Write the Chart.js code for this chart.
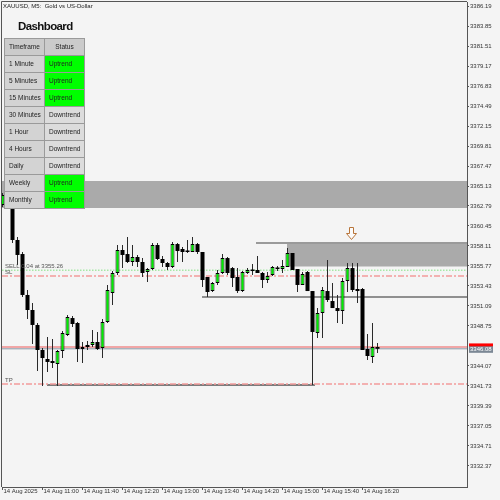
<!DOCTYPE html>
<html><head><meta charset="utf-8">
<script src="https://cdn.jsdelivr.net/npm/chart.js@4/dist/chart.umd.min.js"></script>
<style>
html,body{margin:0;padding:0;background:#f4f4f4;}
#wrap{position:relative;width:500px;height:500px;overflow:hidden;background:#f4f4f4;}
canvas{position:absolute;left:0;top:0;}
.ov{position:absolute;z-index:2;font-family:"Liberation Sans",Arial,sans-serif;}
#title{left:3px;top:3px;font-size:6px;line-height:6px;color:#222;white-space:pre;}
#dash{left:18px;top:21px;font-size:11.5px;line-height:11.5px;font-weight:bold;letter-spacing:-0.6px;color:#111;}
.cell{position:absolute;z-index:2;box-sizing:border-box;border:1px solid #9a9a9a;font-family:"Liberation Sans",Arial,sans-serif;font-size:6.5px;line-height:15px;color:#222;padding-left:4px;white-space:nowrap;overflow:hidden;}
</style></head>
<body><div id="wrap"><canvas id="c" width="500" height="500"></canvas>
<div id="title" class="ov">XAUUSD, M5:  Gold vs US-Dollar</div>
<div id="dash" class="ov">Dashboard</div>
</div>
<script>
// ---- data ----
const tickLabels = ['14 Aug 2025','14 Aug 11:00','14 Aug 11:40','14 Aug 12:20','14 Aug 13:00','14 Aug 13:40','14 Aug 14:20','14 Aug 15:00','14 Aug 15:40','14 Aug 16:20'];
const tickBars = [0,8,16,24,32,40,48,56,64,72];
const priceTicks = [3386.19,3383.85,3381.51,3379.17,3376.83,3374.49,3372.15,3369.81,3367.47,3365.13,3362.79,3360.45,3358.11,3355.77,3353.43,3351.09,3348.75,3344.07,3341.73,3339.39,3337.05,3334.71,3332.37];
const open = [3362.91,3364.08,3363.49,3358.81,3357.17,3352.38,3350.62,3348.87,3345.94,3344.89,
3344.65,3344.30,3345.82,3347.70,3349.68,3349.10,3346.06,3346.53,3346.53,3346.88,
3346.17,3349.22,3352.61,3354.95,3357.64,3357.17,3356.24,3356.82,3356.24,3355.07,
3355.42,3358.23,3356.59,3356.12,3355.65,3358.34,3357.76,3357.52,3357.41,3358.34,
3357.41,3354.48,3352.84,3353.78,3354.95,3356.70,3355.53,3354.48,3352.84,3354.95,
3355.30,3355.30,3354.95,3354.13,3354.72,3355.53,3355.42,3355.65,3357.29,3355.42,
3353.55,3355.07,3352.84,3347.93,3350.27,3352.84,3351.67,3350.85,3350.50,3354.01,
3355.53,3353.08,3353.08,3346.06,3345.12,3346.29];
const high = [3364.31,3364.66,3363.96,3359.16,3357.41,3352.96,3351.44,3349.10,3346.17,3347.46,
3347.23,3345.94,3348.16,3350.04,3349.92,3349.22,3346.88,3346.99,3348.28,3348.05,
3349.57,3353.55,3355.18,3358.23,3358.23,3359.16,3358.23,3357.06,3356.70,3355.53,
3358.46,3358.46,3356.94,3356.24,3358.58,3358.46,3357.99,3358.81,3359.16,3358.46,
3357.41,3354.48,3353.90,3355.30,3357.17,3356.82,3355.65,3355.53,3355.18,3355.53,
3356.00,3356.94,3355.07,3355.07,3355.77,3355.77,3356.47,3357.87,3357.29,3355.42,
3355.07,3355.18,3352.84,3350.85,3353.31,3356.47,3353.78,3352.38,3354.36,3356.12,
3356.12,3356.12,3353.19,3347.81,3349.10,3346.76];
const low = [3362.67,3363.02,3358.46,3355.89,3352.14,3349.57,3346.64,3343.48,3341.73,3343.37,
3343.83,3341.73,3345.00,3347.58,3348.63,3344.54,3344.42,3345.94,3346.29,3345.94,
3345.00,3349.10,3351.21,3354.72,3355.53,3356.12,3355.77,3355.65,3354.48,3353.90,
3355.30,3356.47,3355.65,3355.30,3355.53,3356.24,3356.24,3357.29,3357.41,3357.17,
3353.31,3352.14,3352.73,3353.55,3354.83,3354.72,3353.31,3352.61,3352.73,3354.83,
3354.72,3354.95,3353.19,3353.78,3354.60,3355.18,3354.95,3355.65,3355.30,3352.73,
3353.55,3352.84,3341.85,3347.34,3347.34,3351.56,3350.85,3349.10,3348.98,3352.73,
3352.73,3351.44,3345.94,3344.77,3344.42,3345.59];
const close = [3364.08,3363.49,3358.81,3357.06,3352.38,3350.62,3348.87,3345.94,3345.00,3344.54,
3344.42,3345.82,3347.93,3349.80,3348.98,3346.06,3346.29,3346.29,3346.88,3346.06,
3349.22,3352.96,3354.95,3357.64,3357.06,3356.24,3356.82,3356.24,3354.95,3355.42,
3358.23,3356.59,3356.12,3355.65,3358.34,3357.52,3357.41,3357.41,3358.34,3357.41,
3354.13,3352.73,3353.78,3354.95,3356.70,3354.95,3354.36,3352.84,3355.07,3355.30,
3355.18,3354.95,3354.13,3354.60,3355.65,3355.42,3355.77,3357.29,3355.30,3353.55,
3354.83,3352.84,3348.05,3350.27,3352.96,3351.79,3350.85,3350.50,3354.01,3355.53,
3352.96,3352.84,3345.94,3345.24,3346.29,3346.08];
const timeframes = ['1 Minute','5 Minutes','15 Minutes','30 Minutes','1 Hour','4 Hours','Daily','Weekly','Monthly'];
const trends = ['Uptrend','Uptrend','Uptrend','Downtrend','Downtrend','Downtrend','Downtrend','Uptrend','Uptrend'];
const sellLots = '0.04';
const sellPrice = 3355.26;
const slPrice = 3354.60;
const tpPrice = 3341.96;
const askPrice = 3346.30;
const bidPrice = 3346.08;
const zoneUpper = [3365.71, 3362.55];
const zoneLower = [3358.46, 3355.72];
const resistLevel = 3352.14;
const supportLevel = 3341.85;
const arrowBar = 69.8, arrowPrice = 3359.63;

// ---- table overlay ----
const wrap = document.getElementById('wrap');
function cell(x, y, w, txt, bg, center){
  const d = document.createElement('div'); d.className='cell';
  d.style.left=x+'px'; d.style.top=y+'px'; d.style.width=w+'px'; d.style.height='18px';
  d.style.background=bg; if(center){d.style.textAlign='center';d.style.paddingLeft='0';}
  d.textContent=txt; wrap.appendChild(d);
}
cell(4,38,41,'Timeframe','#cbcbcb',true);
cell(44,38,41,'Status','#cbcbcb',true);
timeframes.forEach((t,i)=>{
  const y=38+17*(i+1);
  cell(4,y,41,t,'#d3d3d3',false);
  cell(44,y,41,trends[i], trends[i]==='Uptrend'?'#00ff00':'#dcdcdc',false);
});

// ---- chart ----
const XMIN=-0.1, XMAX=92.9;
function hline(y,x0,x1,color,width,dash,order,extra){
  return Object.assign({type:'line',data:[{x:x0,y:y},{x:x1,y:y}],borderColor:color,borderWidth:width,borderDash:dash||[],pointRadius:0,fill:false,order:order,tension:0},extra||{});
}
const datasets = [
  hline(zoneUpper[0],XMIN,XMAX,'rgba(0,0,0,0)',0,null,20,{fill:{value:zoneUpper[1]},backgroundColor:'#aaaaaa'}),
  hline(zoneLower[0],56.9,XMAX,'rgba(0,0,0,0)',0,null,20,{fill:{value:zoneLower[1]},backgroundColor:'#aaaaaa'}),
  hline(zoneLower[0],50.7,XMAX,'#9a9a9a',2,null,19),
  hline(resistLevel,39.9,XMAX,'#6e6e6e',1.5,null,18),
  hline(supportLevel,8.9,62.5,'#555555',1.5,null,18),
  hline(sellPrice,XMIN,XMAX,'#a6e8a6',1.5,[1.5,1.5],17),
  hline(slPrice,XMIN,XMAX,'#f29a9a',1.5,[6,2,2,2],17),
  hline(tpPrice,XMIN,XMAX,'#f29a9a',1.5,[6,2,2,2],17),
  hline(askPrice,XMIN,XMAX,'#f08c8c',1.5,null,16),
  hline(bidPrice,XMIN,XMAX,'#8a97a6',1,null,16),
  {type:'bar',data:open.map((o,i)=>({x:i,y:[low[i],high[i]]})),backgroundColor:'#2a2a2a',barThickness:1,grouped:false,order:2,inflateAmount:0,borderWidth:0},
  {type:'bar',data:open.map((o,i)=>({x:i,y:[o,close[i]]})),
    backgroundColor:c=>close[c.dataIndex]>=open[c.dataIndex]?'#00ee00':'#000000',
    borderColor:'#000000',borderWidth:c=>close[c.dataIndex]>=open[c.dataIndex]?1:0,borderSkipped:false,
    barThickness:4,grouped:false,order:1,inflateAmount:0,minBarLength:1.5}
];
const fontF = '"Liberation Sans", Arial, sans-serif';
const overlay = {
  id:'overlay',
  afterDatasetsDraw(chart){
    const ctx=chart.ctx, y=chart.scales.y, x=chart.scales.x, a=chart.chartArea;
    ctx.save();
    ctx.font='6px '+fontF; ctx.fillStyle='#555'; ctx.textBaseline='alphabetic'; ctx.textAlign='left';
    ctx.fillText('SELL '+sellLots+' at '+sellPrice.toFixed(2), a.left+3, y.getPixelForValue(sellPrice)-2);
    ctx.fillText('SL', a.left+3, y.getPixelForValue(slPrice)-1.5);
    ctx.fillText('TP', a.left+3, y.getPixelForValue(tpPrice)-2);
    const cx=Math.round(x.getPixelForValue(arrowBar))+0.5, cy=Math.round(y.getPixelForValue(arrowPrice))+0.5;
    ctx.beginPath();
    ctx.moveTo(cx-2,cy-6); ctx.lineTo(cx+2,cy-6); ctx.lineTo(cx+2,cy); ctx.lineTo(cx+5,cy);
    ctx.lineTo(cx,cy+6); ctx.lineTo(cx-5,cy); ctx.lineTo(cx-2,cy); ctx.closePath();
    ctx.fillStyle='#fbfbfb'; ctx.fill(); ctx.strokeStyle='#b8753a'; ctx.lineWidth=1; ctx.stroke();
    ctx.restore();
  },
  afterDraw(chart){
    const ctx=chart.ctx, y=chart.scales.y, a=chart.chartArea;
    ctx.save();
    ctx.strokeStyle='#555'; ctx.lineWidth=1;
    ctx.beginPath(); ctx.moveTo(a.left-0.5,a.bottom); ctx.lineTo(a.left-0.5,a.top-0.5); ctx.lineTo(a.right,a.top-0.5); ctx.stroke();
    const ya=y.getPixelForValue(askPrice), yb=y.getPixelForValue(bidPrice);
    ctx.fillStyle='#ff0000'; ctx.fillRect(a.right+2, ya-3.5, 24, 7);
    ctx.fillStyle='#7b8794'; ctx.fillRect(a.right+2, yb-2.5, 24, 6.5);
    ctx.fillStyle='#ffffff'; ctx.font='6px '+fontF; ctx.textAlign='left'; ctx.textBaseline='middle';
    ctx.fillText(bidPrice.toFixed(2), a.right+3, yb+0.8);
    ctx.restore();
  }
};
new Chart(document.getElementById('c'),{
  type:'bar',
  data:{datasets},
  options:{
    responsive:false, animation:false, devicePixelRatio:1,
    layout:{padding:{left:2,top:2,right:0,bottom:0}},
    plugins:{legend:{display:false},tooltip:{enabled:false}},
    scales:{
      x:{type:'linear',min:XMIN,max:XMAX,offset:false,bounds:'data',
        grid:{offset:false,drawOnChartArea:false,drawTicks:true,tickLength:3,color:'#555'},
        border:{display:true,color:'#555',width:1},
        ticks:{autoSkip:false,maxRotation:0,minRotation:0,align:'start',labelOffset:1,padding:-2,color:'#333',font:{size:6,family:fontF},
          callback:(v,i)=>tickLabels[i]},
        afterBuildTicks:s=>{s.ticks=tickBars.map(v=>({value:v}));},
        afterFit:s=>{s.height=13;s.paddingLeft=0;s.paddingRight=0;}
      },
      y:{type:'linear',position:'right',min:3329.91,max:3386.66,bounds:'data',
        grid:{offset:false,drawOnChartArea:false,drawTicks:true,tickLength:2,color:'#555'},
        border:{display:true,color:'#555',width:1},
        ticks:{padding:1,color:'#333',font:{size:6,family:fontF},callback:v=>Number(v).toFixed(2)},
        afterBuildTicks:s=>{s.ticks=priceTicks.map(v=>({value:v}));},
        afterFit:s=>{s.width=33;s.paddingTop=0;s.paddingBottom=0;}
      }
    }
  },
  plugins:[overlay]
});
</script>
</body></html>
